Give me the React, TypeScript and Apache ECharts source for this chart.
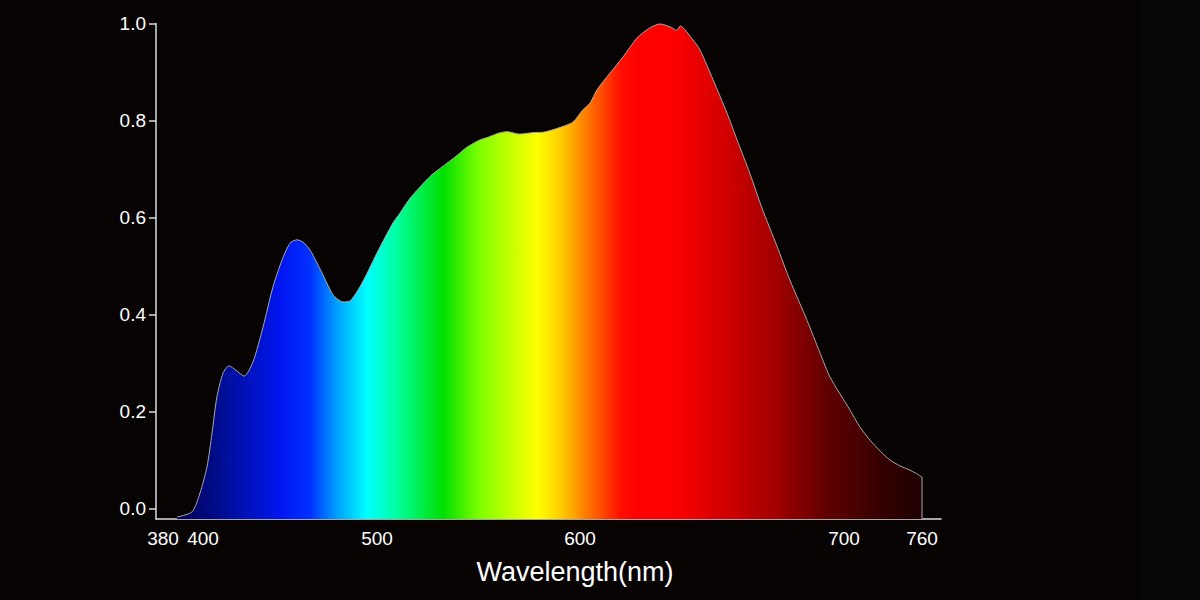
import React, { useEffect, useRef } from "react";
import * as echarts from "echarts";

// Spectrum samples: wavelength (nm) and relative intensity
const WAVELENGTHS = [
  387, 394.5, 398.5, 402.3, 405.2, 408.0, 411.5, 414.9, 419, 423.6, 428.7, 434.5, 440.2, 445.4, 450.0,
  454.0, 457.5, 461.5, 468.4, 474.7, 480.5, 484.5, 490.2, 495, 500, 507.9, 511.3, 516, 521.2, 527,
  534.5, 540, 544.3, 550.7, 555, 560, 564.0, 570, 576.8, 582, 586.7, 591, 596.6, 601.1, 603.8, 606.4,
  611.4, 616.3, 621.6, 626.5, 630.3, 634.1, 636.7, 637.9, 642.8, 645.5, 650.4, 655.7, 659.5, 664.4,
  668.9, 674.6, 679.5, 686.0, 690.9, 694.7, 704.6, 712, 720.0, 728, 735.4, 743, 750.8, 755, 760,
];
const INTENSITY = [
  -0.0175, -0.007, 0.032, 0.086, 0.156, 0.23, 0.279, 0.294, 0.285, 0.273, 0.302, 0.374, 0.457, 0.512, 0.547,
  0.554, 0.549, 0.533, 0.486, 0.441, 0.426, 0.428, 0.457, 0.49, 0.527, 0.589, 0.609, 0.638, 0.663, 0.688,
  0.712, 0.73, 0.745, 0.76, 0.766, 0.774, 0.777, 0.772, 0.775, 0.776, 0.781, 0.787, 0.797, 0.822, 0.836, 0.863,
  0.898, 0.931, 0.97, 0.991, 0.999, 0.993, 0.986, 0.995, 0.966, 0.945, 0.884, 0.815, 0.76, 0.69,
  0.62, 0.541, 0.471, 0.388, 0.321, 0.271, 0.203, 0.169, 0.141, 0.118, 0.1, 0.088, 0.079, 0.073, 0.065,
];

// Tick labels of the (non-uniform) wavelength axis and the y axis
const X_TICKS = [380, 400, 500, 600, 700, 760];
const Y_TICKS = [0, 0.2, 0.4, 0.6, 0.8, 1.0];

// Axis warp: the printed wavelength scale is non-linear; anchor scale units per tick
const WARP_NM = [380, 400, 500, 600, 700, 760];
const WARP_UNITS = [7, 47, 221, 424, 688, 766];
const AXIS_UNITS_MIN = 0;
const AXIS_UNITS_MAX = 785;

const Y_MIN = -0.0216;

function warp(nm: number): number {
  for (let i = 0; i < WARP_NM.length - 1; i++) {
    if (nm <= WARP_NM[i + 1] || i === WARP_NM.length - 2) {
      const t = (nm - WARP_NM[i]) / (WARP_NM[i + 1] - WARP_NM[i]);
      return WARP_UNITS[i] + t * (WARP_UNITS[i + 1] - WARP_UNITS[i]);
    }
  }
  return 0;
}

function unwarpLabel(u: number): string {
  let best = X_TICKS[0];
  let bd = Infinity;
  for (const t of X_TICKS) {
    const d = Math.abs(warp(t) - u);
    if (d < bd) {
      bd = d;
      best = t;
    }
  }
  return String(best);
}

const FONT = "'Liberation Sans', Arial, Helvetica, sans-serif";

export default function App() {
  const ref = useRef<HTMLDivElement>(null);
  useEffect(() => {
    if (!ref.current) return;
    const chart = echarts.init(ref.current, null, { renderer: "svg" });
    const gl = 156;
    const gr = 941;
    const off = (px: number) => (px - gl) / (gr - gl);
    const stops = [
      [177, "#000050"],
      [230, "#0010a0"],
      [280, "#0015f0"],
      [310, "#0030ff"],
      [337, "#00a0ff"],
      [367, "#00ffff"],
      [397, "#00ffa0"],
      [443, "#00e000"],
      [480, "#80ff00"],
      [537, "#ffff00"],
      [560, "#ffd000"],
      [577, "#ff9900"],
      [593, "#ff6600"],
      [620, "#ff1000"],
      [637, "#ff0000"],
      [670, "#ff0000"],
      [727, "#d00000"],
      [777, "#a00000"],
      [827, "#600000"],
      [877, "#380000"],
      [920, "#200000"],
    ].map(([px, c]) => ({ offset: off(px as number), color: c as string }));
    const grad = new echarts.graphic.LinearGradient(gl, 0, gr, 0, stops, true);

    const data = WAVELENGTHS.map((w, i) => [warp(w), INTENSITY[i]]);
    const last = WAVELENGTHS.length - 1;
    const edge = [
      [warp(WAVELENGTHS[last]), INTENSITY[last]],
      [warp(WAVELENGTHS[last]), Y_MIN],
    ];

    chart.setOption({
      animation: false,
      backgroundColor: "#070303",
      grid: { left: gl, right: 1200 - gr, top: 23.5, bottom: 81, containLabel: false },
      graphic: [
        {
          type: "rect",
          z: -10,
          silent: true,
          shape: { x: 1138, y: 0, width: 62, height: 600 },
          style: { fill: "#060606" },
        },
        {
          type: "text",
          x: 575,
          y: 572,
          style: {
            text: "Wavelength(nm)",
            fill: "#ffffff",
            font: `27px ${FONT}`,
            align: "center",
            verticalAlign: "middle",
          },
        },
      ],
      xAxis: {
        type: "value",
        min: AXIS_UNITS_MIN,
        max: AXIS_UNITS_MAX,
        splitLine: { show: false },
        axisTick: { show: false },
        axisLine: { show: true, onZero: false, lineStyle: { color: "#dcdcdc", width: 1.5 } },
        axisLabel: {
          customValues: X_TICKS.map(warp),
          formatter: (v: number) => unwarpLabel(v),
          color: "#ffffff",
          fontSize: 19,
          fontFamily: FONT,
          margin: 10,
          showMinLabel: true,
          showMaxLabel: true,
        },
      },
      yAxis: {
        type: "value",
        min: Y_MIN,
        max: 1.0,
        splitLine: { show: false },
        axisLine: { show: true, onZero: false, lineStyle: { color: "#dcdcdc", width: 1.5 } },
        axisTick: {
          show: true,
          customValues: Y_TICKS,
          length: 7,
          lineStyle: { color: "#dcdcdc", width: 1.5 },
        },
        axisLabel: {
          customValues: Y_TICKS,
          formatter: (v: number) => v.toFixed(1),
          color: "#ffffff",
          fontSize: 19,
          fontFamily: FONT,
          margin: 10,
        },
      },
      series: [
        {
          type: "line",
          data,
          smooth: 0.25,
          symbol: "none",
          lineStyle: { color: "#a8a8a8", width: 1 },
          areaStyle: { color: grad, opacity: 1, origin: "start" },
          z: 2,
        },
        {
          type: "line",
          data: edge,
          symbol: "none",
          lineStyle: { color: "#a8a8a8", width: 1 },
          z: 3,
        },
      ],
    });
    return () => chart.dispose();
  }, []);
  return (
    <div
      ref={ref}
      style={{ position: "absolute", left: 0, top: 0, width: 1200, height: 600 }}
    />
  );
}
